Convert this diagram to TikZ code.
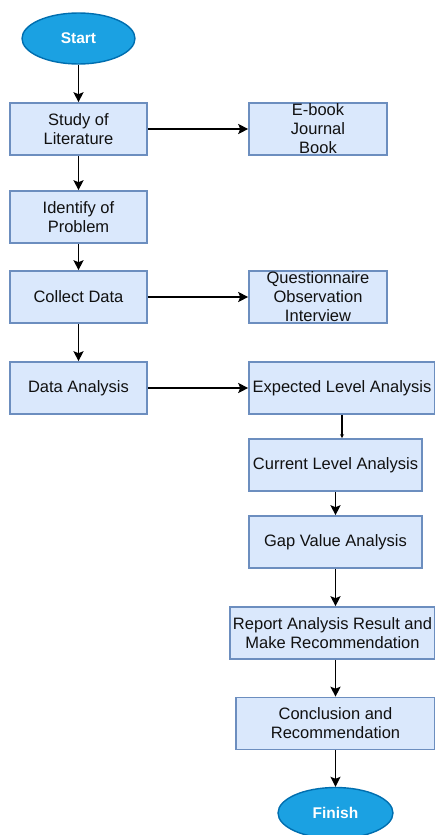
\documentclass[tikz,border=0pt]{standalone}
\usepackage{fontspec}
\setmainfont{Liberation Sans}
\usetikzlibrary{shapes.geometric,arrows.meta}
\definecolor{boxfill}{HTML}{DAE8FC}
\definecolor{boxline}{HTML}{6C8EBF}
\definecolor{ovfill}{HTML}{1BA1E2}
\definecolor{ovline}{HTML}{006EAF}
\definecolor{txt}{HTML}{111111}
\begin{document}
\begin{tikzpicture}[x=1pt,y=-1pt,
  box/.style={draw=boxline,fill=boxfill,line width=1.6pt,inner sep=0pt,
    align=center,text=txt,font=\fontsize{16.5}{19}\selectfont},
  term/.style={ellipse,draw=ovline,fill=ovfill,line width=1.4pt,inner sep=0pt,
    text=white,font=\fontsize{15.5}{18}\selectfont\bfseries,
    minimum width=113pt,minimum height=51pt},
  arr/.style={draw=black,line width=1.4pt,-{Stealth[length=10pt,width=10pt,inset=2pt]}}]
\useasboundingbox (0,0) rectangle (435,835);
\begin{scope}
\clip (0,0) rectangle (435,835);
\node[term] (start) at (78.5,38.5) {Start};
\node[box,minimum width=137pt,minimum height=52pt] (study) at (78.5,129) {Study of\\Literature};
\node[box,minimum width=138pt,minimum height=52pt,
  label={[align=center,text=txt,font=\fontsize{16.5}{19}\selectfont]center:E-book\\Journal\\Book}] (ebook) at (318,129) {};
\node[box,minimum width=137pt,minimum height=52pt] (ident) at (78.5,217) {Identify of\\Problem};
\node[box,minimum width=137pt,minimum height=52pt] (collect) at (78.5,297) {Collect Data};
\node[box,minimum width=138pt,minimum height=52pt,
  label={[align=center,text=txt,font=\fontsize{16.5}{19}\selectfont]center:Questionnaire\\Observation\\Interview}] (quest) at (318,297) {};
\node[box,minimum width=137pt,minimum height=52pt] (data) at (78.5,388) {Data Analysis};
\node[box,minimum width=186pt,minimum height=52pt] (expected) at (342,388) {Expected Level Analysis};
\node[box,minimum width=173pt,minimum height=52pt] (current) at (335.5,465) {Current Level Analysis};
\node[box,minimum width=173pt,minimum height=52pt] (gap) at (335.5,542) {Gap Value Analysis};
\node[box,minimum width=205pt,minimum height=52pt] (report) at (332.5,633) {Report Analysis Result and\\Make Recommendation};
\node[box,minimum width=199pt,minimum height=52pt] (concl) at (335.5,723.5) {Conclusion and\\Recommendation};
\node[term,minimum width=115pt] (finish) at (335.5,813) {Finish};
\end{scope}
\draw[arr] (start) -- (study);
\draw[arr] (study) -- (ident);
\draw[arr] (ident) -- (collect);
\draw[arr] (collect) -- (data);
\draw[arr] (study) -- (ebook);
\draw[arr] (collect) -- (quest);
\draw[arr] (data) -- (expected);
\draw[draw=black,line width=1.4pt,-{Stealth[length=4pt,width=4pt]}] (expected.south) -- (expected.south |- current.north);
\draw[arr] (current) -- (gap);
\draw[arr] (gap.south) -- (gap.south |- report.north);
\draw[arr] (report.south -| concl.north) -- (concl.north);
\draw[arr] (concl) -- (finish);
\end{tikzpicture}
\end{document}
